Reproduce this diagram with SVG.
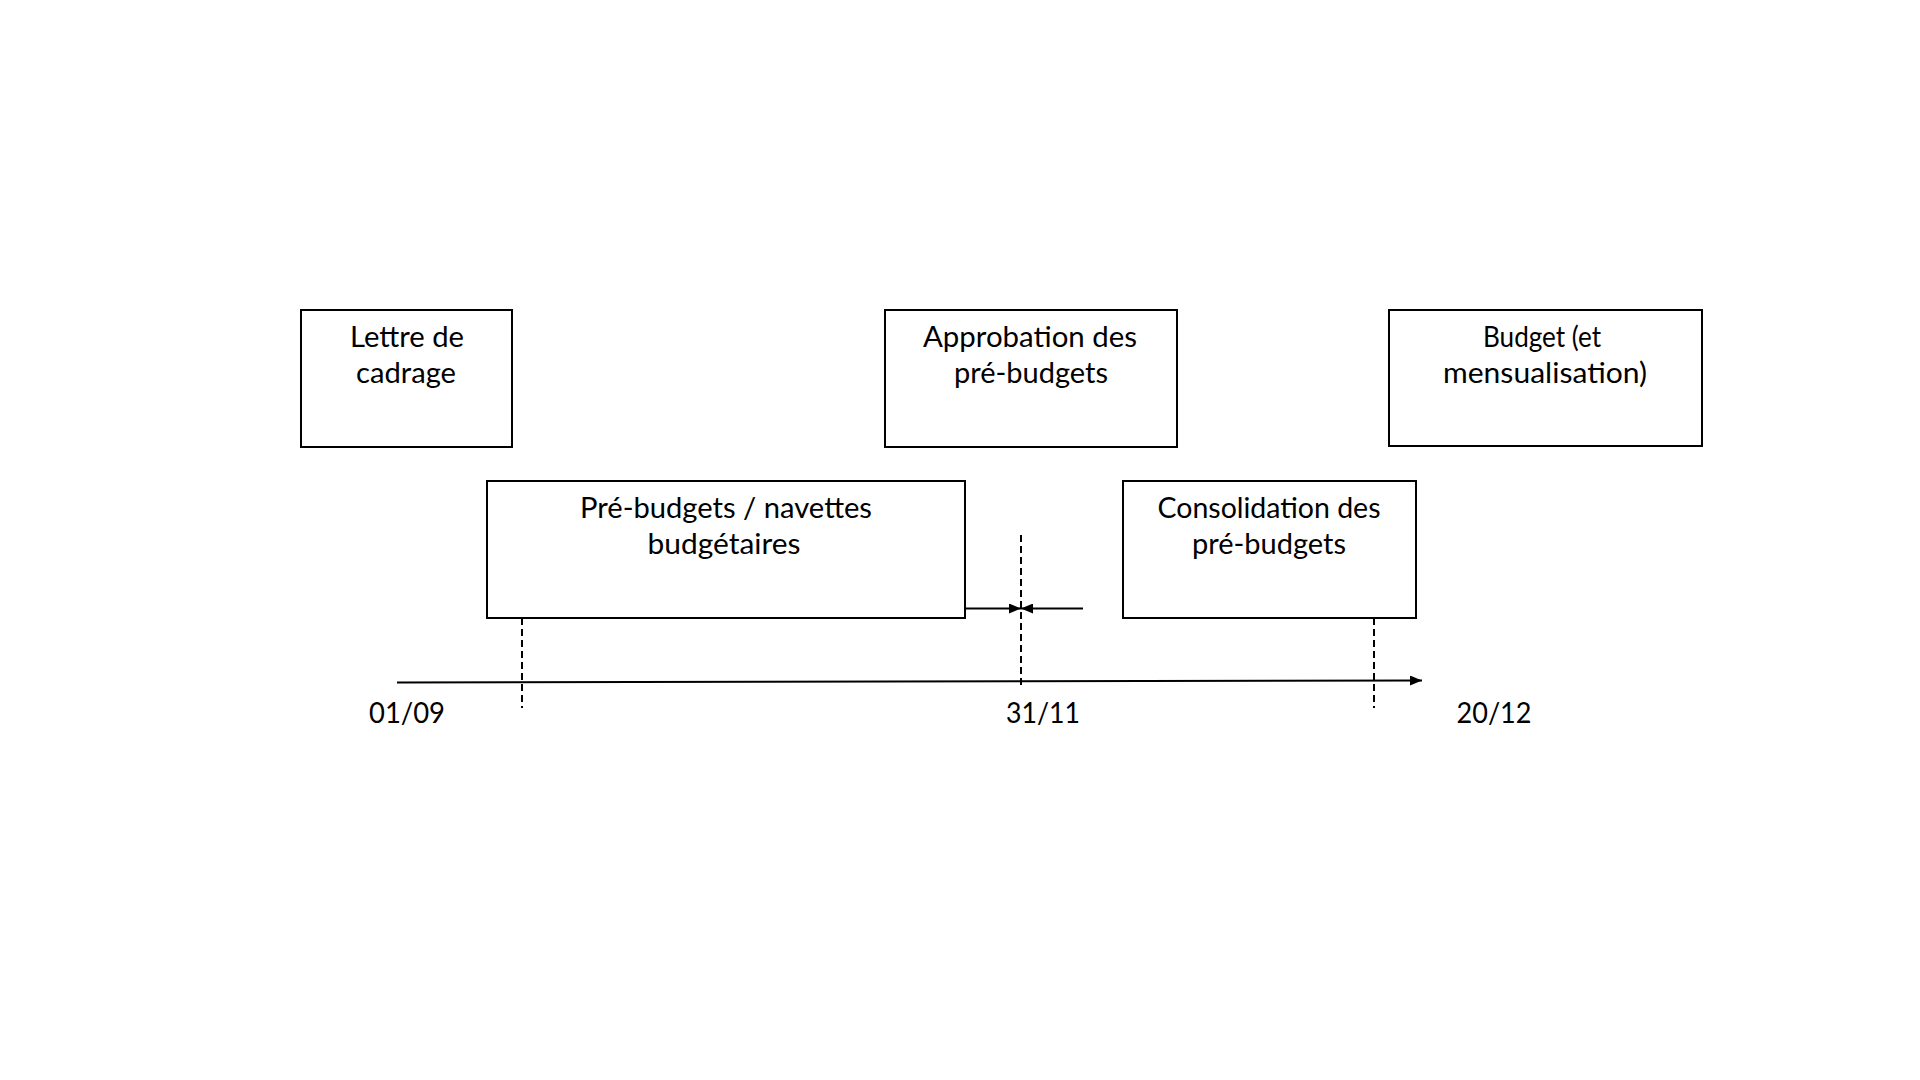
<svg xmlns="http://www.w3.org/2000/svg" width="1920" height="1080" viewBox="0 0 1920 1080">
<style>
.box{fill:#fff;stroke:#000;stroke-width:2}
.t{font-family:Lato,"Open Sans","Liberation Sans",sans-serif;font-size:28px;fill:#000;text-anchor:middle}
.dash{stroke:#000;stroke-width:2;stroke-dasharray:7,4;fill:none}
.ln{stroke:#000;stroke-width:2;fill:none}
</style>
<defs>
<marker id="ah" viewBox="0 0 12 10" refX="12" refY="5" markerWidth="12" markerHeight="10" markerUnits="userSpaceOnUse" orient="auto">
<path d="M0,0 L12,5 L0,10 Z" fill="#000"/>
</marker>
</defs>
<rect width="1920" height="1080" fill="#fff"/>
<g id="connectors">
<path class="ln" d="M397,682.5 L1422,680.5" marker-end="url(#ah)"/>
<line class="dash" x1="522" y1="618" x2="522" y2="708"/>
<line class="dash" x1="1021" y1="535" x2="1021" y2="687"/>
<line class="dash" x1="1374" y1="618" x2="1374" y2="708"/>
<line class="ln" x1="965" y1="608.5" x2="1021" y2="608.5" marker-end="url(#ah)"/>
<line class="ln" x1="1083" y1="608.5" x2="1021" y2="608.5" marker-end="url(#ah)"/>
</g>
<g id="lettre">
<rect class="box" x="301" y="310" width="211" height="137"/>
<text class="t" x="407" y="347" textLength="114" lengthAdjust="spacingAndGlyphs">Lettre de</text>
<text class="t" x="406" y="383" textLength="100" lengthAdjust="spacingAndGlyphs">cadrage</text>
</g>
<g id="approbation">
<rect class="box" x="885" y="310" width="292" height="137"/>
<text class="t" x="1030" y="347" textLength="214" lengthAdjust="spacingAndGlyphs">Approbation des</text>
<text class="t" x="1031" y="383" textLength="154" lengthAdjust="spacingAndGlyphs">pré-budgets</text>
</g>
<g id="budget">
<rect class="box" x="1389" y="310" width="313" height="136"/>
<text class="t" x="1542" y="347" textLength="118" lengthAdjust="spacingAndGlyphs">Budget (et</text>
<text class="t" x="1545" y="383" textLength="204" lengthAdjust="spacingAndGlyphs">mensualisation)</text>
</g>
<g id="prebudgets">
<rect class="box" x="487" y="481" width="478" height="137"/>
<text class="t" x="726" y="518" textLength="292" lengthAdjust="spacingAndGlyphs">Pré-budgets / navettes</text>
<text class="t" x="724" y="554" textLength="153" lengthAdjust="spacingAndGlyphs">budgétaires</text>
</g>
<g id="consolidation">
<rect class="box" x="1123" y="481" width="293" height="137"/>
<text class="t" x="1269" y="518" textLength="223" lengthAdjust="spacingAndGlyphs">Consolidation des</text>
<text class="t" x="1269" y="554" textLength="154" lengthAdjust="spacingAndGlyphs">pré-budgets</text>
</g>
<g id="dates">
<text class="t" x="407" y="723" textLength="76" lengthAdjust="spacingAndGlyphs">01/09</text>
<text class="t" x="1043" y="723" textLength="74" lengthAdjust="spacingAndGlyphs">31/11</text>
<text class="t" x="1494" y="723" textLength="75" lengthAdjust="spacingAndGlyphs">20/12</text>
</g>
</svg>
